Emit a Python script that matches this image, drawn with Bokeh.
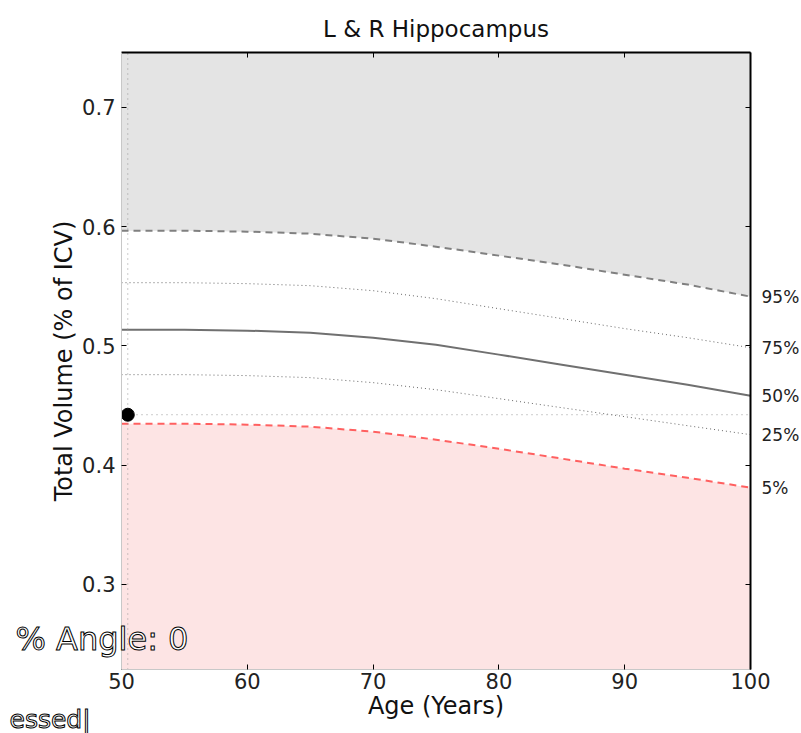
from bokeh.plotting import figure
from bokeh.models import Range1d, LinearAxis, Label, FixedTicker
from bokeh.embed import file_html
from bokeh.resources import INLINE

ages = [50, 55, 60, 65, 70, 75, 80, 85, 90, 95, 100]
p95 = [0.5966, 0.5966, 0.5958, 0.5941, 0.5899, 0.5832, 0.5757, 0.5681, 0.5597, 0.5514, 0.5413]
p75 = [0.5530, 0.5530, 0.5522, 0.5505, 0.5463, 0.5396, 0.5312, 0.5229, 0.5145, 0.5069, 0.4985]
p50 = [0.5136, 0.5136, 0.5128, 0.5111, 0.5069, 0.5010, 0.4927, 0.4843, 0.4759, 0.4675, 0.4583]
p25 = [0.4759, 0.4759, 0.4751, 0.4734, 0.4692, 0.4633, 0.4558, 0.4482, 0.4407, 0.4331, 0.4256]
p05 = [0.4348, 0.4348, 0.4340, 0.4323, 0.4281, 0.4214, 0.4138, 0.4055, 0.3971, 0.3895, 0.3811]
pct_labels = ["95%", "75%", "50%", "25%", "5%"]
subject_age = 50.5
subject_vol = 0.4423
x_ticks = [50, 60, 70, 80, 90, 100]
y_ticks = [0.3, 0.4, 0.5, 0.6, 0.7]
y_lo, y_hi = 0.2287, 0.746

FONT = "DejaVu Sans"

p = figure(frame_width=629, frame_height=617, width=795, height=730,
           x_range=Range1d(50, 100), y_range=Range1d(y_lo, y_hi),
           output_backend="svg", toolbar_location=None,
           min_border_left=121, min_border_right=45, min_border_top=52,
           min_border_bottom=61,
           title="L & R Hippocampus")
p.title.align = "center"
p.title.text_font = FONT
p.title.text_font_size = "23px"
p.title.text_font_style = "normal"
p.title.text_color = "#111111"
p.title.standoff = 21
p.grid.visible = False
p.outline_line_color = None
p.background_fill_color = "white"

# fills
p.varea(x=ages, y1=p95, y2=[y_hi] * len(ages), fill_color="#e4e4e4")
p.varea(x=ages, y1=[y_lo] * len(ages), y2=p05, fill_color="#fde4e4")

# percentile curves
p.line(ages, p95, line_color="#808080", line_width=2, line_dash="7 5")
p.line(ages, p75, line_color="#666666", line_width=1, line_dash="1 3")
p.line(ages, p50, line_color="#707070", line_width=2)
p.line(ages, p25, line_color="#666666", line_width=1, line_dash="1 3")
p.line(ages, p05, line_color="#ff6060", line_width=2, line_dash="7 5")

# subject markers
p.line([50, 100], [subject_vol, subject_vol], line_color="#999999", line_width=1, line_dash="1 4")
p.line([subject_age, subject_age], [y_lo, y_hi], line_color="#999999", line_width=1, line_dash="1 4")
p.scatter([subject_age], [subject_vol], size=13, color="black")

# axes
for ax in (p.xaxis[0], p.yaxis[0]):
    ax.axis_line_color = "#c8c8c8"
    ax.major_tick_in = 5
    ax.major_tick_out = 0
    ax.minor_tick_line_color = None
    ax.major_label_text_font = FONT
    ax.major_label_text_font_size = "21px"
    ax.major_label_text_color = "#222222"
    ax.axis_label_text_font = FONT
    ax.axis_label_text_font_size = "24px"
    ax.axis_label_text_font_style = "normal"
    ax.axis_label_text_color = "#111111"
p.xaxis[0].ticker = FixedTicker(ticks=x_ticks)
p.yaxis[0].ticker = FixedTicker(ticks=y_ticks)
p.xaxis[0].axis_label = "Age (Years)"
p.yaxis[0].axis_label = "Total Volume (% of ICV)"
p.xaxis[0].axis_label_standoff = 0
p.yaxis[0].axis_label_standoff = 1
p.xaxis[0].major_label_standoff = 3
p.yaxis[0].major_label_standoff = 6

top = LinearAxis(ticker=FixedTicker(ticks=x_ticks), major_label_text_font_size="0px",
                 major_tick_in=5, major_tick_out=0, minor_tick_line_color=None,
                 axis_line_color="black", axis_line_width=2, major_label_standoff=0)
right = LinearAxis(ticker=FixedTicker(ticks=y_ticks), major_label_text_font_size="0px",
                   major_tick_in=5, major_tick_out=0, minor_tick_line_color=None,
                   axis_line_color="black", axis_line_width=2, major_label_standoff=0)
p.add_layout(top, "above")
p.add_layout(right, "right")

# percentile labels at the curves' right ends (as a tickless right axis)
ends = [p95[-1], p75[-1], p50[-1], p25[-1], p05[-1]]
pct_axis = LinearAxis(ticker=FixedTicker(ticks=ends),
                      major_label_overrides={e: lab for e, lab in zip(ends, pct_labels)},
                      major_tick_line_color=None, minor_tick_line_color=None,
                      axis_line_color=None, major_label_standoff=5,
                      major_label_text_font=FONT, major_label_text_font_size="17px",
                      major_label_text_color="#222222")
p.add_layout(pct_axis, "right")

# overlay texts (placed in the bottom side panel so they are not clipped to the frame)
p.add_layout(Label(x=15, y=638, x_units="canvas", y_units="canvas", text="% Angle: 0",
                   text_baseline="middle", text_font=FONT, text_font_size="32px",
                   text_color="white", text_outline_color="black"), "below")
p.add_layout(Label(x=9, y=719, x_units="canvas", y_units="canvas", text="essed|",
                   text_baseline="middle", text_font=FONT, text_font_size="25px",
                   text_color="white", text_outline_color="black"), "below")

open("out.html", "w").write(file_html(p, INLINE))
